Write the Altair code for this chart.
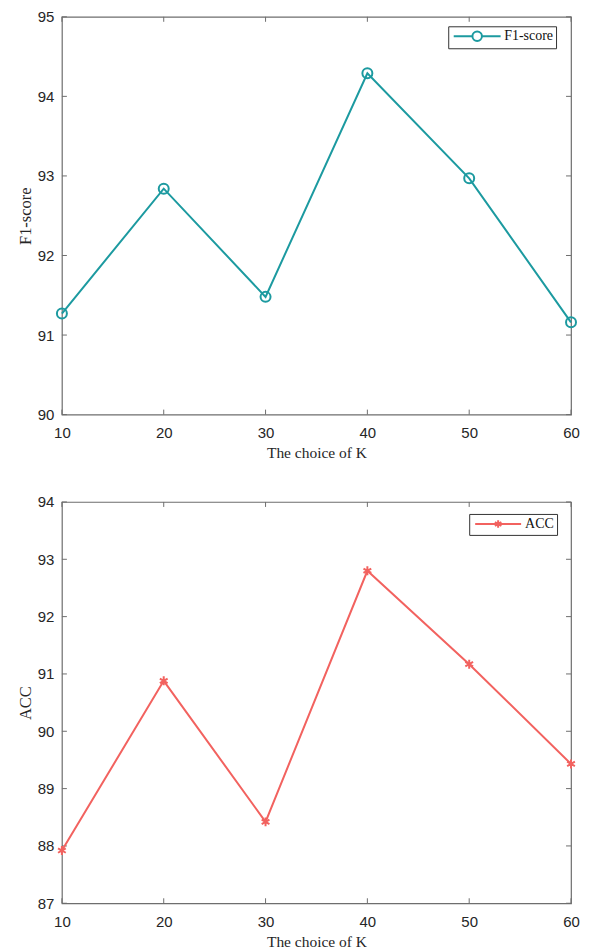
import altair as alt
import pandas as pd

k_values = [10, 20, 30, 40, 50, 60]
f1_scores = [91.27, 92.84, 91.48, 94.29, 92.97, 91.16]
acc_scores = [87.92, 90.88, 88.42, 92.80, 91.17, 89.43]

x_ticks = [10, 20, 30, 40, 50, 60]
f1_ticks = [90, 91, 92, 93, 94, 95]
acc_ticks = [87, 88, 89, 90, 91, 92, 93, 94]

TEAL = "#1c9aa0"
RED = "#f2625f"
W = 510
SERIF = "Liberation Serif"
SANS = "Liberation Sans"
BORDER = "#6e6e6e"

CIRCLE_LEG = "M-4.7,0H-0.95M0.95,0H4.7M0.95,0A0.95,0.95 0 1,1 -0.95,0A0.95,0.95 0 1,1 0.95,0Z"
STAR_PT = "M0,-1V1M-0.87,-0.5L0.87,0.5M-0.87,0.5L0.87,-0.5"
STAR_LEG = "M-4.6,0H4.6M0,-0.75V0.75M-0.65,-0.38L0.65,0.38M-0.65,0.38L0.65,-0.38"


def panel(values, ticks, name, color, shape, shape_size, leg_path, ytitle, H, lx, ly):
    df = pd.DataFrame({"k": k_values, "v": values, "s": name})
    ymin, ymax = ticks[0], ticks[-1]
    xscale = alt.Scale(domain=[10, 60], nice=False, zero=False)
    yscale = alt.Scale(domain=[ymin, ymax], nice=False, zero=False)
    xs = alt.X("k:Q", scale=xscale,
               axis=alt.Axis(values=x_ticks, title="The choice of K", ticks=False,
                             domain=False, grid=False, labelPadding=11, labelFlush=False,
                             titlePadding=5, titleFontSize=15.5, format="d"))
    ys = alt.Y("v:Q", scale=yscale,
               axis=alt.Axis(values=ticks, title=ytitle, ticks=False, domain=False,
                             grid=False, labelPadding=8, titlePadding=4,
                             titleFontSize=16.5, format="d"))
    base = alt.Chart(df)
    line = base.mark_line(strokeWidth=2).encode(
        x=xs, y=ys,
        color=alt.Color("s:N", scale=alt.Scale(domain=[name], range=[color]),
                        legend=alt.Legend(title=None, orient="none", legendX=lx, legendY=ly,
                                          symbolType=leg_path, symbolSize=100,
                                          symbolStrokeWidth=2,
                                          symbolFillColor="transparent",
                                          symbolOffset=19, labelOffset=20,
                                          labelFont=SERIF, labelFontSize=14,
                                          labelColor="#111111",
                                          strokeColor="#333333", fillColor="white",
                                          padding=3)))
    pts = base.mark_point(shape=shape, size=shape_size, filled=False,
                          strokeWidth=2, color=color, opacity=1).encode(
        x=alt.X("k:Q", scale=xscale), y=alt.Y("v:Q", scale=yscale))

    xt = pd.DataFrame({"k": x_ticks})
    yt = pd.DataFrame({"v": ticks})
    xenc = alt.X("k:Q", scale=xscale)
    yenc = alt.Y("v:Q", scale=yscale)
    xb = alt.Chart(xt).mark_rule(color=BORDER, strokeWidth=1).encode(
        x=xenc, y=alt.value(H), y2=alt.value(H - 5))
    xtop = alt.Chart(xt).mark_rule(color=BORDER, strokeWidth=1).encode(
        x=xenc, y=alt.value(0), y2=alt.value(5))
    yl = alt.Chart(yt).mark_rule(color=BORDER, strokeWidth=1).encode(
        y=yenc, x=alt.value(0), x2=alt.value(5))
    yr = alt.Chart(yt).mark_rule(color=BORDER, strokeWidth=1).encode(
        y=yenc, x=alt.value(W), x2=alt.value(W - 5))
    return alt.layer(xb, xtop, yl, yr, line, pts).properties(width=W, height=H)


top = panel(f1_scores, f1_ticks, "F1-score", TEAL, "circle", 100, CIRCLE_LEG,
            "F1-score", 398.5, 387, 9.5)
bottom = panel(acc_scores, acc_ticks, "ACC", RED, STAR_PT, 80, STAR_LEG,
               "ACC", 402, 408, 12)

chart = alt.vconcat(top, bottom, spacing=32).resolve_scale(
    color="independent").resolve_legend(color="independent").properties(
    padding={"left": 8, "top": 0, "right": 0, "bottom": 0}
).configure_view(stroke=BORDER, strokeWidth=1.2).configure_axis(
    labelFont=SANS, labelFontSize=15, labelColor="#262626",
    titleFont=SERIF, titleColor="#262626", titleFontWeight="normal"
)

chart.save("out.html", embed_options={"renderer": "svg", "actions": False})
